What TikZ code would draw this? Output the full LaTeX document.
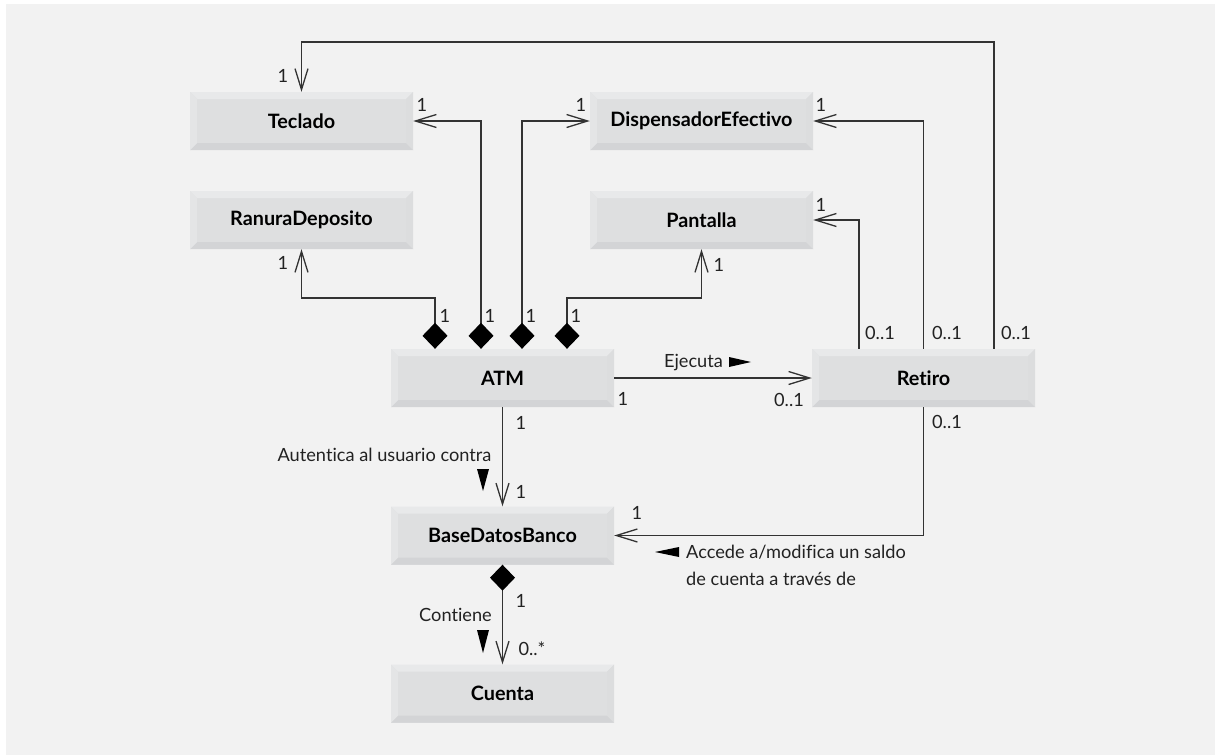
\documentclass[tikz,border=0pt]{standalone}
\usepackage{fontspec}
\setmainfont{Lato}[Ligatures={CommonOff,ContextualOff}]
\usetikzlibrary{arrows.meta}
\definecolor{bg}{HTML}{F2F2F2}
\definecolor{boxface}{HTML}{DEDFE0}
\definecolor{boxtop}{HTML}{E8E9EA}
\definecolor{boxleft}{HTML}{E4E5E6}
\definecolor{boxright}{HTML}{DCDDDE}
\definecolor{boxbot}{HTML}{D3D4D6}
\definecolor{linecol}{HTML}{333333}
\definecolor{txtcol}{HTML}{222222}
\tikzset{
  cls/.style={minimum width=223pt, minimum height=58pt, inner sep=0pt, fill=boxface,
    text=black, font=\bfseries\fontsize{19.8}{22}\selectfont,
    path picture={
      \fill[boxtop] (path picture bounding box.north west) -- (path picture bounding box.north east)
        -- ([xshift=-7pt,yshift=-7pt]path picture bounding box.north east)
        -- ([xshift=7pt,yshift=-7pt]path picture bounding box.north west) -- cycle;
      \fill[boxbot] (path picture bounding box.south west) -- (path picture bounding box.south east)
        -- ([xshift=-7pt,yshift=7pt]path picture bounding box.south east)
        -- ([xshift=7pt,yshift=7pt]path picture bounding box.south west) -- cycle;
      \fill[boxleft] (path picture bounding box.north west) -- (path picture bounding box.south west)
        -- ([xshift=7pt,yshift=7pt]path picture bounding box.south west)
        -- ([xshift=7pt,yshift=-7pt]path picture bounding box.north west) -- cycle;
      \fill[boxright] (path picture bounding box.north east) -- (path picture bounding box.south east)
        -- ([xshift=-7pt,yshift=7pt]path picture bounding box.south east)
        -- ([xshift=-7pt,yshift=-7pt]path picture bounding box.north east) -- cycle;
    }},
  lab/.style={font=\fontsize{18.2}{27}\selectfont, text=txtcol, inner sep=0pt},
  assoc/.style={draw=linecol, line width=1.3pt, -{Straight Barb[length=21pt,width=13pt]}},
  comp/.style={draw=linecol, line width=1.3pt,
    {Diamond[length=26pt,width=25pt,fill=black,color=black]}-{Straight Barb[length=21pt,width=13pt]}},
  tri/.style={fill=black}
}
\begin{document}
\begin{tikzpicture}[x=1pt,y=-1pt]
\useasboundingbox (0,0) rectangle (1215,755);
\fill[bg] (6,4) rectangle (1215,755);

% classes
\node[cls] (Teclado) at (301.5,121) {Teclado};
\node[cls] (RanuraDeposito) at (301.5,220) {RanuraDeposito};
\node[cls] (DispensadorEfectivo) at (701.5,121) {DispensadorEfectivo};
\node[cls] (Pantalla) at (701.5,220) {Pantalla};
\node[cls] (ATM) at (502.5,378) {ATM};
\node[cls] (Retiro) at (923.5,378) {Retiro};
\node[cls] (BaseDatosBanco) at (502.5,535.5) {BaseDatosBanco};
\node[cls] (Cuenta) at (502.5,693.5) {Cuenta};

% bend coordinates
\coordinate (top1) at (994,42);
\coordinate (k1) at (301.5,298);
\coordinate (k2) at (701.5,298);

% Retiro associations
\draw[assoc] ([xshift=70.5pt]Retiro.north) -- (top1) -| (Teclado.north);
\draw[assoc] (Retiro.north) |- (DispensadorEfectivo.east);
\draw[assoc] ([xshift=-64.5pt]Retiro.north) |- (Pantalla.east);

% ATM compositions
\draw[comp] ([xshift=-67.5pt]ATM.north) |- (k1) -- (RanuraDeposito.south);
\draw[comp] ([xshift=-21.5pt]ATM.north) |- (Teclado.east);
\draw[comp] ([xshift=19.5pt]ATM.north) |- (DispensadorEfectivo.west);
\draw[comp] ([xshift=64.5pt]ATM.north) |- (k2) -- (Pantalla.south);

\draw[assoc] (ATM.east) -- (Retiro.west);
\draw[assoc] (ATM.south) -- (BaseDatosBanco.north);
\draw[assoc] (Retiro.south) |- (BaseDatosBanco.east);
\draw[comp] (BaseDatosBanco.south) -- (Cuenta.north);

% multiplicities
\node[lab] (m1) at (283,76) {1};
\node[lab] (m2) at (422,105) {1};
\node[lab] (m3) at (581,105) {1};
\node[lab] (m4) at (821,105) {1};
\node[lab] (m5) at (821,205) {1};
\node[lab] (m6) at (719,265) {1};
\node[lab] (m7) at (283,263) {1};
\node[lab] (m8) at (445,316) {1};
\node[lab] (m9) at (490,316) {1};
\node[lab] (m10) at (531,316) {1};
\node[lab] (m11) at (576,316) {1};
\node[lab] (m12) at (880,333) {0..1};
\node[lab] (m13) at (947,333) {0..1};
\node[lab] (m14) at (1016,333) {0..1};
\node[lab] (m15) at (947,422) {0..1};
\node[lab] (m16) at (623,399) {1};
\node[lab] (m17) at (789,400) {0..1};
\node[lab] (m18) at (521,423) {1};
\node[lab] (m19) at (521,492) {1};
\node[lab] (m20) at (637,513) {1};
\node[lab] (m21) at (521,601) {1};
\node[lab] (m22) at (532,649) {0..*};

% association names
\node[lab] (ejecuta) at (693.5,363) {Ejecuta};
\fill[tri] (729,357) -- (751,362) -- (729,367) -- cycle;
\node[lab] (autentica) at (384.5,455) {Autentica al usuario contra};
\fill[tri] (477,469) -- (489,469) -- (483,491) -- cycle;
\node[lab, anchor=west, align=left] (accede) at (686,565.5) {Accede a/modifica un saldo\\de cuenta a través de};
\fill[tri] (679,547) -- (679,557) -- (655,552) -- cycle;
\node[lab] (contiene) at (455.5,615) {Contiene};
\fill[tri] (477,630) -- (489,630) -- (483,653) -- cycle;
\end{tikzpicture}
\end{document}
